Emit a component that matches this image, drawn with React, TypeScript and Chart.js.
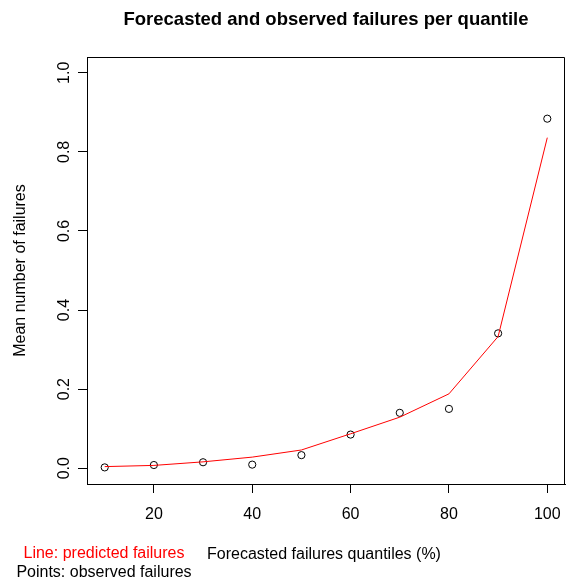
import React, { useEffect, useRef } from "react";
import { Chart, registerables } from "chart.js";

Chart.register(...registerables);

const quantiles = [10, 20, 30, 40, 50, 60, 70, 80, 90, 100];
const predicted = [0.004, 0.007, 0.016, 0.028, 0.046, 0.087, 0.129, 0.188, 0.333, 0.836];
const observed = [0.002, 0.008, 0.015, 0.009, 0.033, 0.085, 0.14, 0.15, 0.341, 0.884];
const xTicks = [20, 40, 60, 80, 100];
const yTicks = [0, 0.2, 0.4, 0.6, 0.8, 1.0];

const titleText = "Forecasted and observed failures per quantile";
const xTitle = "Forecasted failures quantiles (%)";
const yTitle = "Mean number of failures";
const lineNote = "Line: predicted failures";
const pointNote = "Points: observed failures";

const FONT = "'Liberation Sans', Arial, Helvetica, sans-serif";

const textPlugin = {
  id: "rtext",
  afterDraw(chart: any) {
    const ctx = chart.ctx;
    const a = chart.chartArea;
    ctx.save();
    ctx.strokeStyle = "#000";
    ctx.lineWidth = 1;
    ctx.beginPath();
    ctx.moveTo(Math.round(a.left) + 0.5, Math.round(a.top) + 0.5);
    ctx.lineTo(Math.round(a.right) - 0.5, Math.round(a.top) + 0.5);
    ctx.lineTo(Math.round(a.right) - 0.5, Math.round(a.bottom) + 0.5);
    ctx.stroke();

    const cx = (a.left + a.right) / 2;
    const cy = (a.top + a.bottom) / 2;
    ctx.fillStyle = "#000";
    ctx.textAlign = "center";
    ctx.textBaseline = "alphabetic";
    ctx.font = `bold 18.5px ${FONT}`;
    ctx.fillText(titleText, cx, 25);

    ctx.font = `16px ${FONT}`;
    ctx.fillText(xTitle, cx - 2, 559);

    ctx.fillStyle = "#FF0000";
    ctx.fillText(lineNote, 104, 558);
    ctx.fillStyle = "#000";
    ctx.fillText(pointNote, 104, 577);

    ctx.save();
    ctx.translate(25, cy);
    ctx.rotate(-Math.PI / 2);
    ctx.fillText(yTitle, 0, 0);
    ctx.restore();
    ctx.restore();
  },
};

export default function App() {
  const ref = useRef<HTMLCanvasElement | null>(null);
  useEffect(() => {
    if (!ref.current) return;
    const chart = new Chart(ref.current, {
      type: "line",
      data: {
        datasets: [
          {
            label: "predicted",
            data: quantiles.map((q, i) => ({ x: q, y: predicted[i] })),
            borderColor: "#FF0000",
            borderWidth: 1,
            pointRadius: 0,
            fill: false,
            tension: 0,
          },
          {
            label: "observed",
            data: quantiles.map((q, i) => ({ x: q, y: observed[i] })),
            showLine: false,
            borderColor: "#000",
            backgroundColor: "rgba(0,0,0,0)",
            pointRadius: 3.6,
            pointBorderWidth: 1,
            pointBorderColor: "#000",
            pointBackgroundColor: "rgba(0,0,0,0)",
          },
        ],
      },
      options: {
        responsive: false,
        animation: false,
        devicePixelRatio: 1,
        layout: { autoPadding: false, padding: { top: 57, right: 1, left: 0, bottom: 0 } },
        plugins: {
          legend: { display: false },
          title: { display: false },
          tooltip: { enabled: false },
        },
        scales: {
          x: {
            type: "linear",
            min: 6.4,
            max: 103.6,
            afterBuildTicks: (s: any) => {
              s.ticks = xTicks.map((v) => ({ value: v }));
            },
            afterFit: (s: any) => {
              s.height = 101;
              s.paddingLeft = 0;
              s.paddingRight = 0;
            },
            grid: {
              drawOnChartArea: false,
              drawTicks: true,
              tickLength: 9,
              tickColor: "#000",
              tickWidth: 1,
            },
            border: { display: true, color: "#000", width: 1 },
            ticks: {
              color: "#000",
              font: { family: FONT, size: 16 },
              padding: 12,
              maxRotation: 0,
              minRotation: 0,
              autoSkip: false,
              callback: (v: any) => String(v),
            },
          },
          y: {
            type: "linear",
            min: -0.04,
            max: 1.04,
            afterBuildTicks: (s: any) => {
              s.ticks = yTicks.map((v) => ({ value: v }));
            },
            afterFit: (s: any) => {
              s.width = 87;
              s.paddingTop = 0;
              s.paddingBottom = 0;
            },
            grid: {
              drawOnChartArea: false,
              drawTicks: true,
              tickLength: 9,
              tickColor: "#000",
              tickWidth: 1,
            },
            border: { display: true, color: "#000", width: 1 },
            ticks: {
              color: "#000",
              font: { family: FONT, size: 16 },
              padding: 2,
              minRotation: 90,
              maxRotation: 90,
              crossAlign: "center",
              autoSkip: false,
              callback: (v: any) => Number(v).toFixed(1),
            },
          },
        },
      },
      plugins: [textPlugin],
    } as any);
    return () => chart.destroy();
  }, []);
  return (
    <div style={{ position: "fixed", left: 0, top: 0, width: 566, height: 585, background: "#fff" }}>
      <canvas ref={ref} width={566} height={585} style={{ width: 566, height: 585, display: "block" }} />
    </div>
  );
}
